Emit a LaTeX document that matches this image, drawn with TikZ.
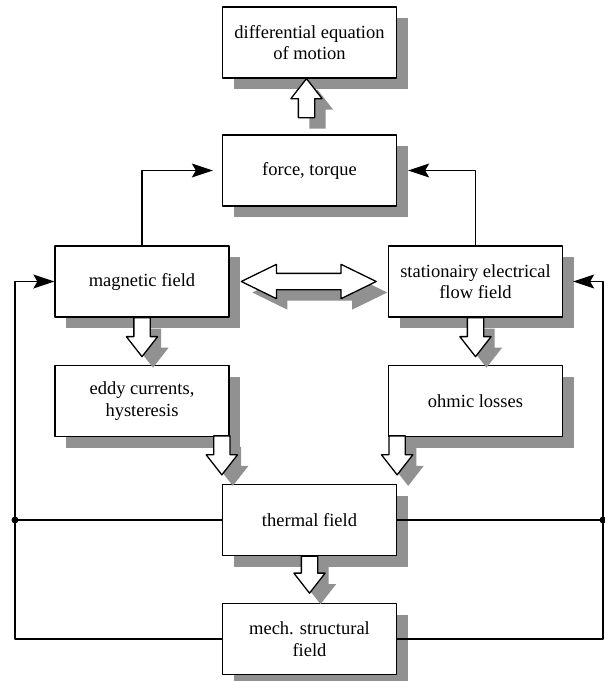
\documentclass[tikz,border=0pt]{standalone}
\usepackage{fontspec}
\setmainfont{Liberation Serif}
\usetikzlibrary{arrows.meta,shapes.arrows,shadows,calc}
\definecolor{shadowgray}{RGB}{145,145,145}

\tikzset{
  boxshadow/.style={drop shadow={shadow xshift=11pt,shadow yshift=-11pt,fill=shadowgray,opacity=1}},
  field/.style={draw,line width=1.3pt,fill=white,minimum width=174pt,minimum height=71pt,
    align=center,inner sep=2pt,font=\fontsize{18.5}{21.5}\selectfont,boxshadow},
  flow/.style={single arrow,draw,line width=1.3pt,fill=white,inner sep=7.5pt,outer sep=0pt,
    single arrow head extend=7.5pt,single arrow tip angle=76,minimum height=39pt,boxshadow},
  coupling/.style={double arrow,draw,line width=1.3pt,fill=white,inner sep=7.5pt,outer sep=0pt,
    double arrow head extend=9pt,double arrow tip angle=52,minimum height=135pt,boxshadow}
}

\begin{document}
\begin{tikzpicture}[line cap=round,line join=round,>={Stealth[length=21pt,width=14pt,inset=4pt]},x=1pt,y=-1pt]
\useasboundingbox (0,0) rectangle (605,681);

\node[field] (motion) at (309.5,42.5) {differential equation\\of motion};
\node[field] (force) at (309.5,170.5) {force, torque};
\node[field] (magnetic) at (142,281.5) {magnetic field};
\node[field] (electric) at (475.5,281.5) {stationairy electrical\\flow field};
\node[field] (eddy) at (142,401) {eddy currents,\\hysteresis};
\node[field] (ohmic) at (475.5,401) {ohmic losses};
\node[field] (thermal) at (309.5,520) {thermal field};
\node[field] (mech) at (309.5,639) {mech. structural\\field};

% coupling arrows
\node[flow,shape border rotate=90,anchor=tip] at ([xshift=-3pt]motion.south) {};
\node[flow,shape border rotate=270,anchor=tail] at (magnetic.south) {};
\node[flow,shape border rotate=270,anchor=tail] at (electric.south) {};
\node[flow,shape border rotate=270,anchor=tip] at ([yshift=9pt]thermal.north west) {};
\node[flow,shape border rotate=270,anchor=tip] at ([yshift=9pt]thermal.north east) {};
\node[flow,shape border rotate=270,anchor=tail,minimum height=37pt] at (thermal.south) {};
\node[coupling] at ($(magnetic.east)!0.5!(electric.west)$) {};

\coordinate (leftbus) at (15,520);
\coordinate (rightbus) at (603,520);
\draw[line width=1.2pt,->] (magnetic.north) |- ([xshift=-9pt]force.west);
\draw[line width=1.2pt,->] (electric.north) |- ([xshift=11pt]force.east);
\draw[line width=1.2pt] (thermal.west) -- (leftbus);
\draw[line width=1.2pt] (thermal.east) -- (rightbus);
\draw[line width=1.2pt,->] (mech.west) -| (leftbus) |- (magnetic.west);
\draw[line width=1.2pt,->] (mech.east) -| (rightbus) |- ([xshift=10pt]electric.east);
\fill (leftbus) circle (3.5pt);
\fill (rightbus) circle (3.5pt);
\end{tikzpicture}
\end{document}
